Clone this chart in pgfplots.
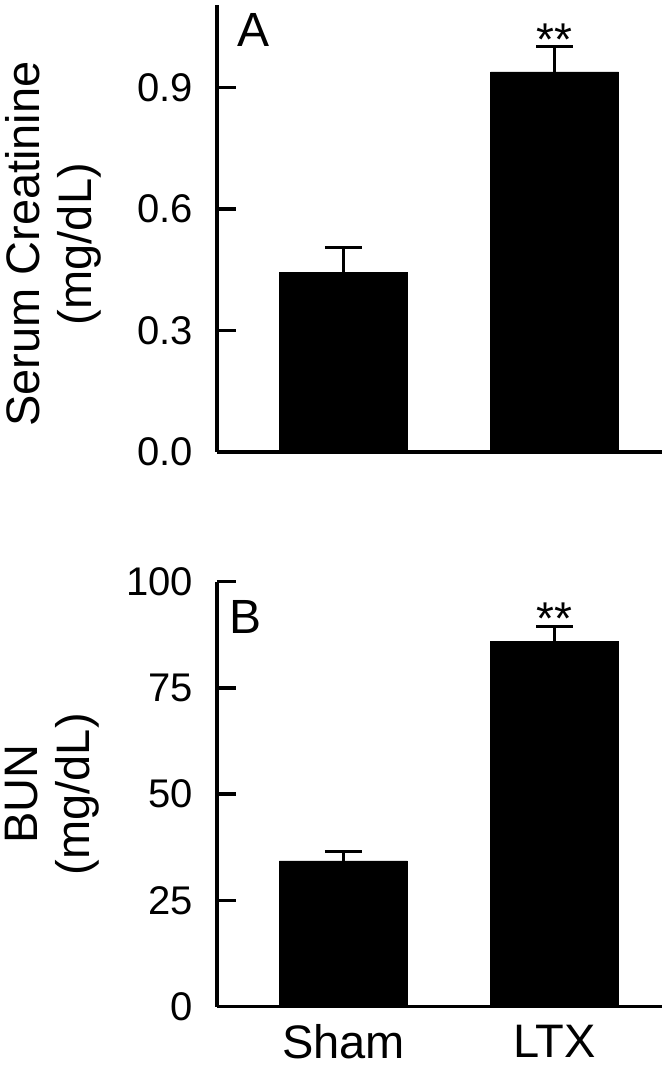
\documentclass[border=0pt]{standalone}
\usepackage{pgfplots}
\pgfplotsset{compat=1.18}
\usepackage{fontspec}
\setmainfont{Liberation Sans}

\pgfplotsset{
  mybase/.style={
    scale only axis, width=445pt,
    xmin=0.401, xmax=2.509, ymin=0,
    axis lines*=left,
    axis line style={-, line width=3.5pt, black},
    tick align=inside,
    major tick length=19pt,
    tick style={black, line width=3.5pt},
    /pgf/number format/assume math mode=true,
    yticklabel style={font=\fontsize{40}{48}\selectfont, inner sep=0pt, xshift=-24pt},
    xticklabel style={font=\fontsize{47}{52}\selectfont, inner sep=0pt, yshift=-18pt},
    ylabel style={anchor=north, inner sep=0pt, align=center, font=\fontsize{47}{52}\selectfont},
    clip=false,
  },
  mybar/.style={ybar, bar width=128pt, fill=black, draw=black,
    error bars/.cd, y dir=plus, y explicit,
    error bar style={line width=3.5pt, black},
    error mark options={rotate=90, mark size=18.5pt, line width=3.5pt, black}},
}

\begin{document}
\begin{tikzpicture}
\useasboundingbox (0,0) rectangle (667pt,1086pt);
% Panel A
\begin{axis}[mybase,
  at={(217pt,634pt)}, anchor=south west,
  height=447pt, ymax=1.104,
  xtick=\empty,
  ytick={0,0.3,0.6,0.9}, yticklabels={0.0,0.3,0.6,0.9},
  ylabel={Serum Creatinine\\(mg/dL)},
  ylabel style={at={(axis description cs:-0.476,0.465)}},
]
\addplot[mybar] coordinates {(1,0.443) +- (0,0.062) (2,0.939) +- (0,0.063)};
\node[font=\fontsize{48}{52}\selectfont, anchor=base west, inner sep=0pt] at (rel axis cs:0.045,0.906) {A};
\node[font=\fontsize{46}{48}\selectfont, anchor=base, inner sep=0pt] at (axis cs:2,0.980) {**};
\end{axis}
% Panel B
\begin{axis}[mybase,
  at={(217pt,79.3pt)}, anchor=south west,
  height=425pt, ymax=100,
  xtick={1,2}, xticklabels={Sham,LTX},
  ytick={0,25,50,75,100},
  ylabel={BUN\\(mg/dL)},
  ylabel style={at={(axis description cs:-0.476,0.5)}},
]
\addplot[mybar] coordinates {(1,34.3) +- (0,2.2) (2,86.0) +- (0,3.4)};
\node[font=\fontsize{48}{52}\selectfont, anchor=base west, inner sep=0pt] at (rel axis cs:0.028,0.879) {B};
\node[font=\fontsize{46}{48}\selectfont, anchor=base, inner sep=0pt] at (axis cs:2,87.5) {**};
\end{axis}
\end{tikzpicture}
\end{document}
